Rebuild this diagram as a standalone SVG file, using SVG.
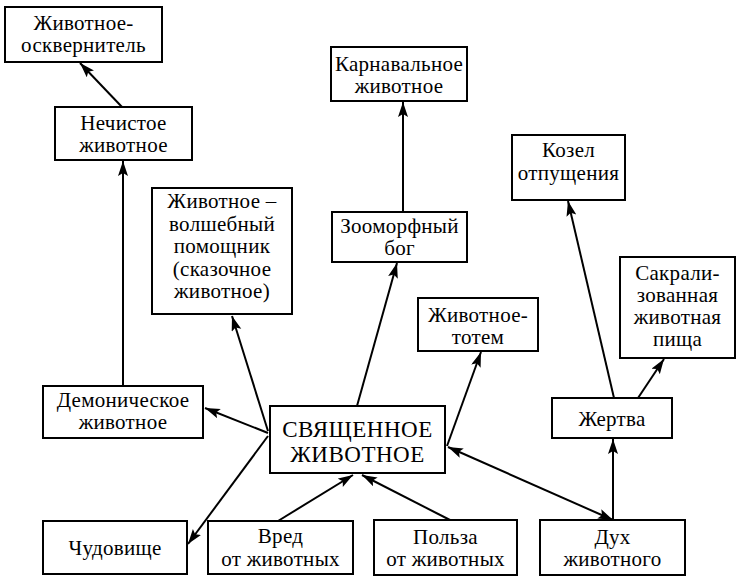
<svg xmlns="http://www.w3.org/2000/svg" width="743" height="579" viewBox="0 0 743 579">
<defs>
<marker id="ah" markerUnits="userSpaceOnUse" markerWidth="16" markerHeight="12" refX="15" refY="5" orient="auto-start-reverse">
<path d="M0,0 L15,5 L0,10 L3,5 z" fill="#000"/>
</marker>
<style>
rect{fill:#fff;stroke:#000;stroke-width:2}
text{font-family:"Liberation Serif","Times New Roman",serif;font-size:21px;letter-spacing:0.3px;fill:#000;text-anchor:middle}
.big{font-size:23px;letter-spacing:0.5px}
#connectors line{stroke:#000;stroke-width:2;fill:none}
.a{marker-end:url(#ah)}
.d{marker-start:url(#ah);marker-end:url(#ah)}
</style>
</defs>
<rect x="0" y="0" width="743" height="579" style="stroke:none"/>
<g id="connectors">
<line class="a" x1="122" y1="107" x2="80" y2="63"/>
<line class="a" x1="123" y1="386" x2="123" y2="161"/>
<line class="a" x1="268" y1="433" x2="205" y2="408"/>
<line class="a" x1="268" y1="431" x2="232" y2="316"/>
<line class="a" x1="268" y1="436" x2="188" y2="544"/>
<line class="a" x1="278" y1="521" x2="353" y2="475"/>
<line class="a" x1="450" y1="520" x2="362" y2="475"/>
<line class="a" x1="357" y1="406" x2="397" y2="263"/>
<line class="a" x1="403" y1="212" x2="403" y2="102"/>
<line class="a" x1="447" y1="446" x2="481" y2="352"/>
<line class="d" x1="448" y1="447" x2="613" y2="520"/>
<line class="a" x1="613" y1="520" x2="613" y2="439"/>
<line class="a" x1="614" y1="398" x2="568" y2="201"/>
<line class="a" x1="638" y1="398" x2="664" y2="359"/>
</g>
<g id="n1"><rect x="5" y="7" width="157" height="55"/><text x="83.5" y="30">Животное-</text><text x="83.5" y="52">осквернитель</text></g>
<g id="n2"><rect x="55" y="107" width="137" height="53"/><text x="123.5" y="130">Нечистое</text><text x="123.5" y="152">животное</text></g>
<g id="n3"><rect x="152" y="188" width="140" height="126"/><text x="222" y="208">Животное –</text><text x="222" y="231">волшебный</text><text x="222" y="253">помощник</text><text x="222" y="276">(сказочное</text><text x="222" y="298">животное)</text></g>
<g id="n4"><rect x="331" y="47" width="136" height="54"/><text x="399" y="71">Карнавальное</text><text x="399" y="93">животное</text></g>
<g id="n5"><rect x="332" y="212" width="135" height="50"/><text x="399.5" y="233">Зооморфный</text><text x="399.5" y="255">бог</text></g>
<g id="n6"><rect x="512" y="135" width="113" height="65"/><text x="568.5" y="157">Козел</text><text x="568.5" y="180">отпущения</text></g>
<g id="n7"><rect x="620" y="257" width="115" height="101"/><text x="677.5" y="280">Сакрали-</text><text x="677.5" y="302">зованная</text><text x="677.5" y="324">животная</text><text x="677.5" y="346">пища</text></g>
<g id="n8"><rect x="418" y="298" width="120" height="53"/><text x="478" y="322">Животное-</text><text x="478" y="344">тотем</text></g>
<g id="n9"><rect x="552" y="398" width="120" height="40"/><text x="612" y="426">Жертва</text></g>
<g id="n10"><rect x="540" y="520" width="145" height="55"/><text x="612.5" y="544">Дух</text><text x="612.5" y="566">животного</text></g>
<g id="n11"><rect x="374" y="520" width="143" height="55"/><text x="445.5" y="544">Польза</text><text x="445.5" y="566">от животных</text></g>
<g id="n12"><rect x="208" y="521" width="145" height="53"/><text x="280.5" y="543">Вред</text><text x="280.5" y="566">от животных</text></g>
<g id="n13"><rect x="43" y="521" width="144" height="53"/><text x="115" y="555">Чудовище</text></g>
<g id="n14"><rect x="43" y="386" width="160" height="52"/><text x="123" y="407">Демоническое</text><text x="123" y="429">животное</text></g>
<g id="n15"><rect x="270" y="406" width="175" height="67"/><text class="big" x="357.5" y="437">СВЯЩЕННОЕ</text><text class="big" x="357.5" y="462">ЖИВОТНОЕ</text></g>
</svg>
